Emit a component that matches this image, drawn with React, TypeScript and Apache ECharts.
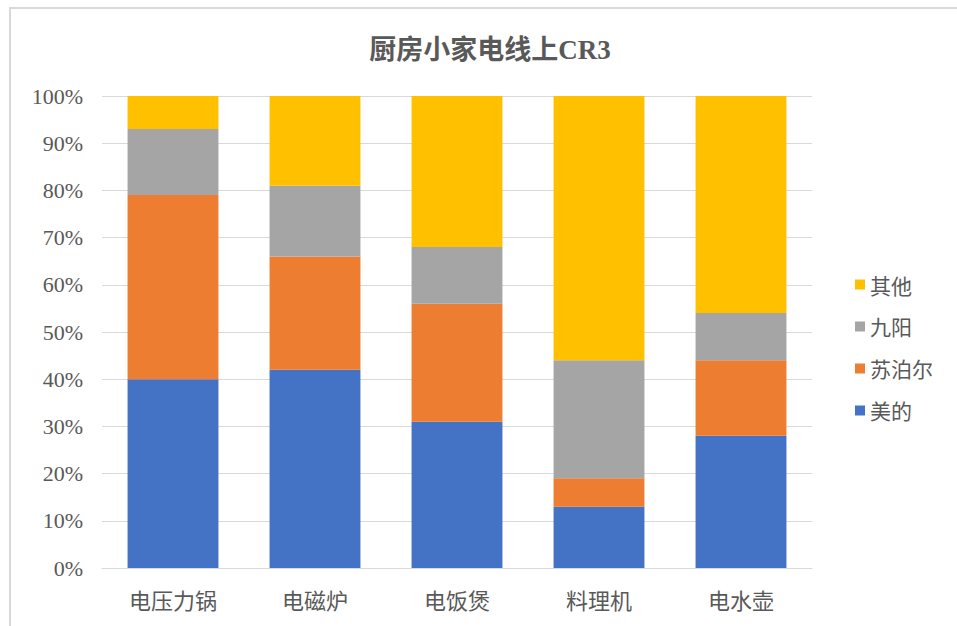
import React, { useEffect, useRef } from "react";
import * as echarts from "echarts";

const categories = ["电压力锅", "电磁炉", "电饭煲", "料理机", "电水壶"];
const midea = [40, 42, 31, 13, 28];
const supor = [39, 24, 25, 6, 16];
const joyoung = [14, 15, 12, 25, 10];
const others = [7, 19, 32, 56, 46];
const seriesNames = ["美的", "苏泊尔", "九阳", "其他"];
const colors = ["#4472C4", "#ED7D31", "#A5A5A5", "#FFC000"];

export default function App() {
  const ref = useRef<HTMLDivElement>(null);
  useEffect(() => {
    if (!ref.current) return;
    const chart = echarts.init(ref.current, null, { renderer: "svg" });
    const values = [midea, supor, joyoung, others];
    chart.setOption({
      animation: false,
      backgroundColor: "#ffffff",
      title: {
        text: "厨房小家电线上CR3",
        left: 485,
        top: 31,
        textAlign: "center",
        textStyle: {
          fontFamily: "'Liberation Serif', 'Noto Sans CJK SC', serif",
          fontWeight: "bold",
          fontSize: 27,
          color: "#595959",
        },
      },
      graphic: [
        {
          type: "rect",
          shape: { x: 10, y: 8, width: 960, height: 640 },
          style: { fill: "none", stroke: "#d9d9d9", lineWidth: 2 },
          silent: true,
          z: -1,
        },
      ],
      legend: {
        orient: "vertical",
        left: 850,
        top: 269,
        itemWidth: 10,
        itemHeight: 10,
        itemGap: 21,
        icon: "rect",
        data: ["其他", "九阳", "苏泊尔", "美的"],
        textStyle: {
          fontFamily: "'Noto Sans CJK SC', sans-serif",
          fontSize: 21,
          color: "#595959",
        },
      },
      grid: { left: 102, right: 145, top: 96, bottom: 58, containLabel: false },
      xAxis: {
        type: "category",
        data: categories,
        axisLine: { lineStyle: { color: "#d9d9d9" } },
        axisTick: { show: false },
        axisLabel: {
          margin: 20,
          fontFamily: "'Noto Sans CJK SC', sans-serif",
          fontSize: 22,
          color: "#595959",
        },
      },
      yAxis: {
        type: "value",
        min: 0,
        max: 100,
        interval: 10,
        axisLine: { show: false },
        axisTick: { show: false },
        splitLine: { lineStyle: { color: "#d9d9d9", width: 1 } },
        axisLabel: {
          formatter: "{value}%",
          margin: 19,
          fontFamily: "'Liberation Serif', serif",
          fontSize: 22,
          color: "#595959",
        },
      },
      series: seriesNames.map((name, i) => ({
        name,
        type: "bar",
        stack: "total",
        data: values[i],
        barCategoryGap: "36%",
        itemStyle: { color: colors[i] },
      })),
    });
    return () => chart.dispose();
  }, []);
  return (
    <div
      ref={ref}
      style={{ position: "fixed", left: 0, top: 0, width: 957, height: 626 }}
    />
  );
}
